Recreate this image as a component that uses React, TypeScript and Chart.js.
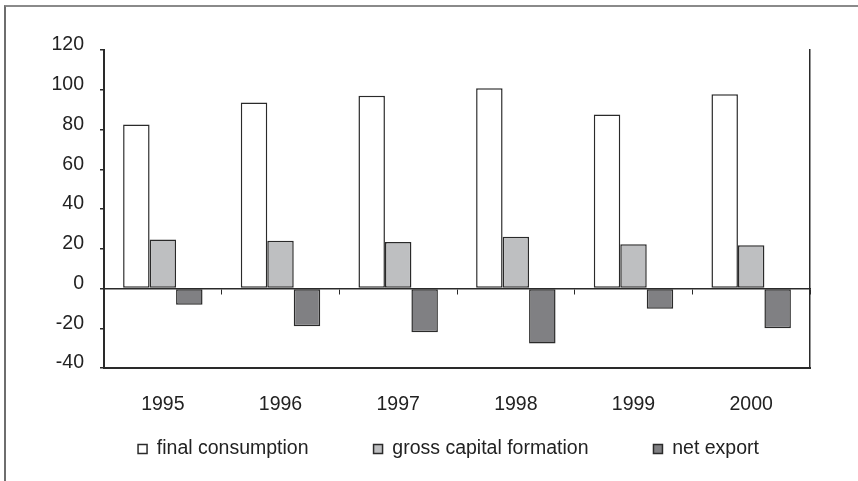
import React, { useEffect, useRef } from "react";
import { Chart, registerables } from "chart.js";

Chart.register(...registerables);

const categories = ["1995", "1996", "1997", "1998", "1999", "2000"];
const finalConsumption = [82.5, 93.6, 97.0, 100.7, 87.6, 97.7];
const grossCapitalFormation = [24.7, 24.0, 23.4, 26.1, 22.3, 21.7];
const netExport = [-8.2, -19.0, -22.0, -27.7, -10.2, -20.0];
const seriesNames = ["final consumption", "gross capital formation", "net export"];
const yTicks = { min: -40, max: 120, step: 20 };

const FONT = "'Liberation Sans', Arial, sans-serif";
const TEXT = "#222222";
const LINE = "#2a2a2a";

export default function App() {
  const ref = useRef<HTMLCanvasElement | null>(null);

  useEffect(() => {
    document.body.style.margin = "0";
    const canvas = ref.current;
    if (!canvas) return;
    const chart = new Chart(canvas, {
      type: "bar",
      data: {
        labels: categories,
        datasets: [
          {
            label: seriesNames[0],
            data: finalConsumption,
            backgroundColor: "#ffffff",
            borderColor: LINE,
            borderWidth: 1.5,
            borderSkipped: false,
          },
          {
            label: seriesNames[1],
            data: grossCapitalFormation,
            backgroundColor: "#bebfc1",
            borderColor: LINE,
            borderWidth: 1.5,
            borderSkipped: false,
          },
          {
            label: seriesNames[2],
            data: netExport,
            backgroundColor: "#808083",
            borderColor: LINE,
            borderWidth: 1.5,
            borderSkipped: false,
          },
        ],
      },
      options: {
        animation: false,
        responsive: false,
        maintainAspectRatio: false,
        datasets: {
          bar: { barPercentage: 1, categoryPercentage: 0.675 },
        },
        layout: { padding: { left: 44, right: 5, top: 50, bottom: 12.25 } },
        plugins: {
          tooltip: { enabled: false },
          title: { display: false },
          legend: {
            position: "bottom",
            labels: {
              boxWidth: 9,
              boxHeight: 9,
              padding: 65,
              color: TEXT,
              font: { family: FONT, size: 19.5 },
            },
          },
        },
        scales: {
          x: {
            type: "category",
            position: "bottom",
            grid: { display: true, drawOnChartArea: false, drawTicks: false },
            border: { display: true, color: LINE, width: 2 },
            ticks: { display: false },
            afterFit: (s: any) => {
              s.height = 6.25;
            },
          },
          x2: {
            type: "category",
            position: { y: 0 } as any,
            labels: categories,
            grid: {
              display: true,
              offset: true,
              drawOnChartArea: false,
              drawTicks: true,
              tickLength: 5,
              color: LINE,
              lineWidth: 1,
            },
            border: { display: true, color: LINE, width: 1.5 },
            ticks: {
              display: true,
              color: TEXT,
              padding: 99,
              maxRotation: 0,
              autoSkip: false,
              font: { family: FONT, size: 19.5 },
            },
            afterFit: (s: any) => {
              s.height = 0;
              s.paddingLeft = 0;
              s.paddingRight = 0;
              s.paddingTop = 0;
              s.paddingBottom = 0;
            },
          },
          y: {
            type: "linear",
            position: "left",
            min: yTicks.min,
            max: yTicks.max,
            grid: {
              display: true,
              drawOnChartArea: false,
              drawTicks: true,
              tickLength: 4,
              color: LINE,
              lineWidth: 1.5,
            },
            border: { display: true, color: LINE, width: 2 },
            ticks: {
              stepSize: yTicks.step,
              color: TEXT,
              padding: 16,
              labelOffset: -5,
              font: { family: FONT, size: 19.5 },
            },
            afterFit: (s: any) => {
              s.width = 60;
            },
          },
          y2: {
            type: "linear",
            position: "right",
            min: yTicks.min,
            max: yTicks.max,
            grid: { display: true, drawOnChartArea: false, drawTicks: false },
            border: { display: true, color: LINE, width: 1.5 },
            ticks: { display: false },
            afterFit: (s: any) => {
              s.width = 43;
            },
          },
        },
      },
    });
    return () => chart.destroy();
  }, []);

  return (
    <div style={{ position: "relative", width: 858, height: 481, overflow: "hidden", background: "#fff" }}>
      <canvas ref={ref} width={858} height={481} style={{ position: "absolute", left: 0, top: 0 }} />
      <div
        style={{
          position: "absolute",
          left: 4,
          top: 5,
          width: 900,
          height: 520,
          borderLeft: "2px solid #6e6e6e",
          borderTop: "2px solid #8a8a8a",
          pointerEvents: "none",
        }}
      />
    </div>
  );
}
